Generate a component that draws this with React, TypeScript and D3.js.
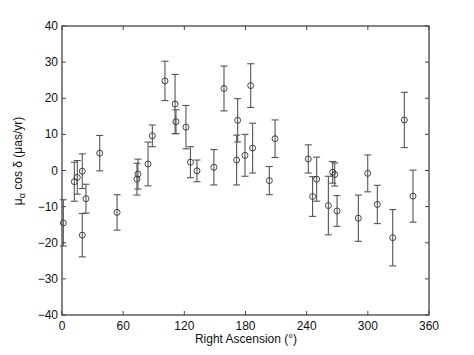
import React from "react";
import * as d3 from "d3";

const ra = [1.3, 12.1, 15, 19.9, 19.9, 23.5, 37, 54, 73.5, 74.5, 84.4, 88.6, 101, 110.9, 111.8, 121.6, 126, 132.4, 149, 158.9, 171.3, 172.3, 179.5, 185.1, 187, 203.4, 209, 241.6, 245.8, 249.8, 261.3, 265.5, 267.5, 269.8, 290.7, 299.9, 309.3, 324.4, 335.8, 344.3];
const mu = [-14.5, -3.1, -1.9, -0.2, -17.9, -7.8, 4.8, -11.6, -2.4, -1.0, 1.8, 9.6, 24.8, 18.4, 13.5, 12.0, 2.3, -0.1, 0.9, 22.7, 2.9, 13.9, 4.2, 23.5, 6.2, -2.8, 8.8, 3.2, -7.2, -2.4, -9.7, -0.5, -1.1, -11.2, -13.2, -0.8, -9.4, -18.6, 14.0, -7.1];
const err = [6.4, 5.4, 4.65, 4.8, 6.0, 4.0, 4.9, 4.9, 4.4, 4.15, 6.05, 3.0, 5.45, 8.2, 3.3, 6.0, 4.3, 3.0, 4.9, 6.2, 6.9, 6.0, 5.8, 6.05, 6.9, 3.9, 5.2, 3.9, 5.5, 6.1, 8.1, 3.0, 3.2, 4.25, 6.4, 5.1, 5.3, 7.8, 7.65, 7.2];
const xTicks = [0, 60, 120, 180, 240, 300, 360];
const yTicks = [-40, -30, -20, -10, 0, 10, 20, 30, 40];

export default function App() {
  const W = 474, H = 355;
  const L = 62, R = 429, T = 26, B = 315;
  const x = d3.scaleLinear().domain([0, 360]).range([L, R]);
  const y = d3.scaleLinear().domain([-40, 40]).range([B, T]);
  const axisColor = "#444";
  const font = "'Liberation Sans', Arial, sans-serif";
  const cap = 3.5;
  return (
    <svg width={W} height={H} style={{ position: "absolute", left: 0, top: 0, background: "#fff" }}>
      <rect x={0} y={0} width={W} height={H} fill="#fff" />
      {ra.map((r, i) => {
        const cx = x(r);
        const y1 = y(mu[i] + err[i]);
        const y2 = y(mu[i] - err[i]);
        return (
          <g key={i} stroke="#555" strokeWidth={1.1} fill="none">
            <line x1={cx} x2={cx} y1={y1} y2={y2} />
            <line x1={cx - cap} x2={cx + cap} y1={y1} y2={y1} />
            <line x1={cx - cap} x2={cx + cap} y1={y2} y2={y2} />
            <circle cx={cx} cy={y(mu[i])} r={3} stroke="#333" strokeWidth={0.9} />
          </g>
        );
      })}
      <rect x={L} y={T} width={R - L} height={B - T} fill="none" stroke={axisColor} strokeWidth={1.3} />
      {xTicks.map((t) => (
        <g key={"x" + t}>
          <line x1={x(t)} x2={x(t)} y1={B} y2={B - 4} stroke={axisColor} />
          <line x1={x(t)} x2={x(t)} y1={T} y2={T + 4} stroke={axisColor} />
          <text x={x(t)} y={330} textAnchor="middle" fontSize={12} fontFamily={font} fill="#111">{t}</text>
        </g>
      ))}
      {yTicks.map((t) => (
        <g key={"y" + t}>
          <line x1={L} x2={L + 4} y1={y(t)} y2={y(t)} stroke={axisColor} />
          <line x1={R} x2={R - 4} y1={y(t)} y2={y(t)} stroke={axisColor} />
          <text x={58} y={y(t) + 4} textAnchor="end" fontSize={12} fontFamily={font} fill="#111">{t < 0 ? "\u2212" + Math.abs(t) : t}</text>
        </g>
      ))}
      <text x={(L + R) / 2 + 0.5} y={343} textAnchor="middle" fontSize={12} fontFamily={font} fill="#111">Right Ascension (°)</text>
      <text transform={`translate(22, 161) rotate(-90)`} textAnchor="middle" fontSize={12} fontFamily={font} fill="#111">
        μ<tspan fontSize={9} dy={3}>α</tspan><tspan dy={-3}> cos δ (μas/yr)</tspan>
      </text>
    </svg>
  );
}
